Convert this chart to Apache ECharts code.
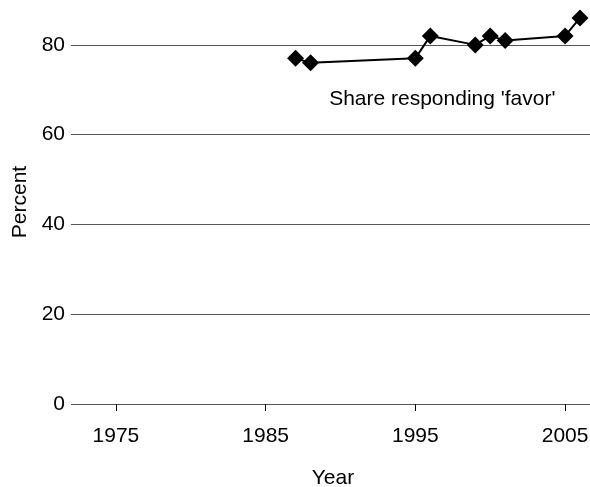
<!DOCTYPE html>
<html><head><meta charset="utf-8">
<script src="https://cdn.jsdelivr.net/npm/echarts@6/dist/echarts.min.js"></script>
<style>html,body{margin:0;padding:0;background:#fff}#c{width:590px;height:487px}</style>
</head><body><div id="c"></div>
<script>
const years = [1987, 1988, 1995, 1996, 1999, 2000, 2001, 2005, 2006];
const favor = [77, 76, 77, 82, 80, 82, 81, 82, 86];
const xTicks = [1975, 1985, 1995, 2005];
const yTicks = [0, 20, 40, 60, 80];
const seriesLabel = "Share responding 'favor'";
const FONT = '"Liberation Sans", Arial, sans-serif';

const chart = echarts.init(document.getElementById('c'), null, {renderer: 'canvas'});
chart.setOption({
  animation: false,
  grid: {left: 71, right: -5, top: 0, bottom: 83, containLabel: false, outerBoundsMode: 'none'},
  xAxis: {
    type: 'value', min: 1972, max: 2007, interval: 10,
    offset: 14,
    name: 'Year', nameLocation: 'middle', nameGap: 50,
    nameTextStyle: {fontFamily: FONT, fontSize: 21, color: '#000'},
    axisLine: {show: false},
    axisTick: {show: true, length: 7, lineStyle: {color: '#000', width: 1},
      customValues: xTicks},
    axisLabel: {fontFamily: FONT, fontSize: 21, color: '#000', margin: 8,
      customValues: xTicks, formatter: v => String(v)},
    splitLine: {show: false}
  },
  yAxis: {
    type: 'value', min: 0, max: 90,
    name: 'Percent', nameLocation: 'middle', nameGap: 40, nameRotate: 90,
    nameTextStyle: {fontFamily: FONT, fontSize: 21, color: '#000'},
    axisLine: {show: false},
    axisTick: {show: false, customValues: yTicks},
    axisLabel: {fontFamily: FONT, fontSize: 21, color: '#000', margin: 6,
      customValues: yTicks, formatter: v => String(v)},
    splitLine: {show: true, lineStyle: {color: '#555', width: 1}}
  },
  series: [{
    type: 'line',
    data: years.map((y, i) => [y, favor[i]]),
    symbol: 'diamond', symbolSize: 17,
    lineStyle: {color: '#000', width: 2},
    itemStyle: {color: '#000'},
    markPoint: {
      symbol: 'rect', symbolSize: 1,
      itemStyle: {color: 'rgba(0,0,0,0)'},
      label: {show: true, formatter: seriesLabel, fontFamily: FONT, fontSize: 21, color: '#000', position: 'inside'},
      data: [{coord: [1996.8, 67.8]}]
    }
  }]
});
</script></body></html>
